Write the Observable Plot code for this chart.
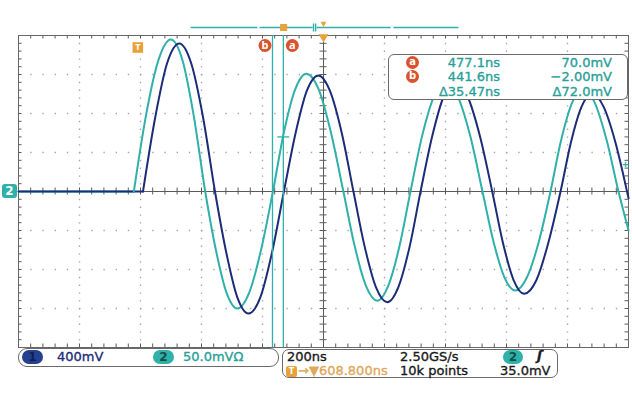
<!DOCTYPE html>
<html><head><meta charset="utf-8">
<script src="https://cdn.jsdelivr.net/npm/d3@7"></script>
<script src="https://cdn.jsdelivr.net/npm/@observablehq/plot@0.6"></script>
<style>
body{margin:0;background:#fff;}
#wrap{position:relative;width:632px;height:395px;overflow:hidden;font-family:"DejaVu Sans",sans-serif;}
#wrap svg{position:absolute;left:0;top:0;}
.box{position:absolute;background:#fff;border:1px solid #6a6a6a;box-sizing:border-box;}
.t{position:absolute;font-size:13px;line-height:14px;white-space:nowrap;-webkit-text-stroke:0.35px currentColor;}
.pill{position:absolute;border-radius:8px;font-size:12px;line-height:14px;text-align:center;font-weight:bold;}
.badge{position:absolute;width:13px;height:13px;border-radius:50%;background:#d9532c;color:#fff;font-size:10px;line-height:12px;text-align:center;font-weight:bold;}
</style></head><body><div id="wrap"></div>
<script>
// ---- settings ----
const timePerDivNs = 200;
const centerTimeNs = 608.8;
const ch1MvPerDiv = 400;
const ch2MvPerDiv = 50;
const triggerLevelMv = 35.0;

// ---- channel 2 (cyan), time in ns, value in mV ----
const ch2Time = [-391,-300,-200,-100,-13,27,68,108,146,183,221,256,291,326,365,404,443,479,516,552,593,633,674,711,748,785,821,858,894,932,971,1009,1049,1090,1130,1166,1202,1238,1276,1315,1353,1388,1424,1459,1498,1537,1576,1609];
const ch2Mv   = [0,0,0,0,0,98,169,195,169,98,0,-75,-130,-150,-130,-75,0,76,131,151,131,76,0,-70,-121,-140,-121,-70,0,71,122,141,122,71,0,-64,-110,-127,-110,-64,0,66,114,132,114,66,0,-50];
const ch2StartNs = -13;

// ---- channel 1 (dark blue), time in ns, value in mV ----
const ch1Time = [-391,-300,-200,-100,17,57,96,136,175,214,253,290,326,363,402,440,479,517,554,592,630,669,707,744,781,818,854,891,927,965,1003,1041,1081,1122,1162,1197,1232,1267,1307,1346,1386,1420,1455,1489,1527,1566,1604,1609];
const ch1Mv   = [0,0,0,0,0,759,1315,1518,1315,759,0,-626,-1083,-1251,-1083,-626,0,595,1031,1190,1031,595,0,-568,-983,-1135,-983,-568,0,564,977,1128,977,564,0,-525,-908,-1049,-908,-525,0,503,870,1005,870,503,0,-70];
const ch1StartNs = 17;

// ---- cursors ----
const cursorNames = ["a","b"];
const cursorTimeNs = [477.1, 441.6];
const cursorMv = [70.0, -2.00];
const readTime = ["477.1ns","441.6ns","Δ35.47ns"];
const readVolt = ["70.0mV","−2.00mV","Δ72.0mV"];

// ---- record bar (ns along the record view) ----
const recordStart = [173, 399, 586, 838];
const recordEnd   = [392, 573, 829, 1051];
const recordBreakNs = [576, 583];
const recordTrigNs = 478;

// ---- bottom readouts ----
const ch1Scale = "400mV";
const ch2Scale = "50.0mVΩ";
const horizScale = "200ns";
const sampleRate = "2.50GS/s";
const trigPos = "→▼608.800ns";
const recLen = "10k points";
const trigLevel = "35.0mV";

const CYAN = "#2fb0a8", CYAN_T = "#2a9f99", NAVY = "#1d2c78", ORANGE = "#e9a23b", RED = "#d9532c";

const W = 632, H = 395, mL = 18, mR = 4, mT = 35, mB = 48;
const pw = W - mL - mR, ph = H - mT - mB;
const xDomain = [centerTimeNs - 5*timePerDivNs, centerTimeNs + 5*timePerDivNs];
const yDomain = [-4*ch2MvPerDiv, 4*ch2MvPerDiv];
const nsPerPx = (xDomain[1]-xDomain[0]) / pw;
const mvPerPx = (yDomain[1]-yDomain[0]) / ph;
const tickNs = 3.5*nsPerPx, tickMv = 3.5*mvPerPx;

const ch2 = ch2Time.map((t,i)=>({t, mv: ch2Mv[i]}));
const ch1 = ch1Time.map((t,i)=>({t, mv: ch1Mv[i]}));
const cursors = cursorNames.map((n,i)=>({n, t: cursorTimeNs[i], mv: cursorMv[i]}));

const xMajor = d3.range(0,11).map(i=>xDomain[0]+i*timePerDivNs);
const xMinor = d3.range(0,51).map(i=>xDomain[0]+i*timePerDivNs/5);
const yMajor = d3.range(0,9).map(i=>yDomain[0]+i*ch2MvPerDiv);
const yMinor = d3.range(0,41).map(i=>yDomain[0]+i*ch2MvPerDiv/5);
const recSegs = recordStart.map((s,i)=>({s, e: recordEnd[i]}));

const ratio = ch1MvPerDiv / ch2MvPerDiv;
const gridStroke = "#a8a8a8", axStroke = "#5a5a5a";
const barY = yDomain[1] + 8*mvPerPx;

const plot = Plot.plot({
  width: W, height: H, marginLeft: mL, marginRight: mR, marginTop: mT, marginBottom: mB,
  x: {domain: xDomain, axis: null},
  y: {domain: yDomain, axis: null},
  style: {background: "transparent", overflow: "visible"},
  marks: [
    Plot.ruleY(yMajor.filter(v=>v!==0 && Math.abs(v)!==yDomain[1]), {stroke: gridStroke, strokeWidth: 1.4, strokeDasharray: `1.4,${pw/50-1.4}`}),
    Plot.ruleX(xMajor.filter((v,i)=>i!==0 && i!==5 && i!==10), {stroke: gridStroke, strokeWidth: 1.4, strokeDasharray: `1.4,${ph/40-1.4}`}),
    Plot.ruleY([0], {stroke: axStroke}),
    Plot.ruleX([centerTimeNs], {stroke: axStroke}),
    Plot.ruleX(xMinor, {y1: yDomain[1], y2: yDomain[1]-tickMv, stroke: axStroke}),
    Plot.ruleX(xMinor, {y1: yDomain[0], y2: yDomain[0]+tickMv, stroke: axStroke}),
    Plot.ruleX(xMinor, {y1: -tickMv, y2: tickMv, stroke: axStroke}),
    Plot.ruleY(yMinor, {x1: xDomain[0], x2: xDomain[0]+tickNs, stroke: axStroke}),
    Plot.ruleY(yMinor, {x1: xDomain[1]-tickNs, x2: xDomain[1], stroke: axStroke}),
    Plot.ruleY(yMinor, {x1: centerTimeNs-tickNs, x2: centerTimeNs+tickNs, stroke: axStroke}),
    Plot.frame({stroke: "#666"}),
    // traces: flat baseline, then the ringing wave
    Plot.line(ch2.filter(d=>d.t<=ch2StartNs), {x: "t", y: "mv", stroke: CYAN, strokeWidth: 2.2}),
    Plot.line(ch1.filter(d=>d.t<=ch1StartNs), {x: "t", y: d=>d.mv/ratio, stroke: NAVY, strokeWidth: 2}),
    Plot.line(ch2.filter(d=>d.t>=ch2StartNs), {x: "t", y: "mv", stroke: CYAN, strokeWidth: 2, curve: "monotone-x"}),
    Plot.line(ch1.filter(d=>d.t>=ch1StartNs), {x: "t", y: d=>d.mv/ratio, stroke: NAVY, strokeWidth: 2, curve: "monotone-x"}),
    // cursors
    Plot.ruleX(cursors, {x: "t", stroke: CYAN, strokeWidth: 1.3}),
    Plot.link(cursors.filter(d=>d.n==="a"), {x1: d=>d.t-6*nsPerPx, x2: d=>d.t+6*nsPerPx, y1: "mv", y2: "mv", stroke: CYAN, strokeWidth: 1.3}),
    Plot.dot(cursors.filter(d=>d.n==="b"), {x: "t", y: ()=>yDomain[1], dx: -7.5, dy: 10, r: 6.5, fill: RED}),
    Plot.dot(cursors.filter(d=>d.n==="a"), {x: "t", y: ()=>yDomain[1], dx: 9, dy: 10, r: 6.5, fill: RED}),
    Plot.text(cursors.filter(d=>d.n==="b"), {x: "t", y: ()=>yDomain[1], text: "n", dx: -7.5, dy: 10, fill: "white", fontSize: 11, fontWeight: "bold"}),
    Plot.text(cursors.filter(d=>d.n==="a"), {x: "t", y: ()=>yDomain[1], text: "n", dx: 9, dy: 10, fill: "white", fontSize: 11, fontWeight: "bold"}),
    // trigger marker
    Plot.dot([0], {x: d=>d, y: ()=>yDomain[1], dy: 12, symbol: "square", r: 6, fill: ORANGE}),
    Plot.text([0], {x: d=>d, y: ()=>yDomain[1], dy: 12, text: ()=>"T", fill: "white", fontSize: 9, fontWeight: "bold"}),
    Plot.text([triggerLevelMv], {x: ()=>xDomain[1], y: d=>d, dx: -3, text: ()=>"+", fill: CYAN, fontSize: 11, fontWeight: "bold"}),
    // record bar
    Plot.link(recSegs, {x1: "s", x2: "e", y1: ()=>barY, y2: ()=>barY, stroke: CYAN, strokeWidth: 1.6}),
    Plot.link(recordBreakNs, {x1: d=>d, x2: d=>d, y1: ()=>barY - 4*mvPerPx, y2: ()=>barY + 4*mvPerPx, stroke: CYAN, strokeWidth: 1.4}),
    Plot.dot([recordTrigNs], {x: d=>d, y: ()=>barY, symbol: "square", r: 4, fill: ORANGE}),
    Plot.dot([centerTimeNs], {x: d=>d, y: ()=>barY, dy: -4, symbol: "triangle", r: 2.2, fill: ORANGE, rotate: 180}),
    Plot.dot([centerTimeNs], {x: d=>d, y: ()=>yDomain[1], dy: 1.5, symbol: "triangle", r: 3.6, fill: ORANGE, rotate: 180})
  ]
});
const wrap = document.getElementById("wrap");
wrap.appendChild(plot);

function add(html){ wrap.insertAdjacentHTML("beforeend", html); }
// channel 2 ground tag
add(`<div class="pill" style="left:2px;top:184px;width:15px;height:14px;border-radius:3px;background:${CYAN};color:#fff;">2</div>`);
// cursor readout
add(`<div class="box" style="left:388px;top:54px;width:240px;height:46px;border-radius:6px;"></div>`);
[62.5,76.5].forEach((y,i)=>add(`<div class="badge" style="left:406px;top:${y-6.5}px;">${cursorNames[i]}</div>`));
[62.5,76.5,91.5].forEach((y,i)=>{
  add(`<div class="t" style="right:${W-500}px;top:${y-7}px;color:${CYAN_T};">${readTime[i]}</div>`);
  add(`<div class="t" style="right:${W-612}px;top:${y-7}px;color:${CYAN_T};">${readVolt[i]}</div>`);
});
// bottom boxes
add(`<div class="box" style="left:18px;top:348px;width:261px;height:19px;border-radius:9px;"></div>`);
add(`<div class="pill" style="left:22px;top:350px;width:21px;height:14px;background:#24418f;color:#0f1f56;">1</div>`);
add(`<div class="t" style="left:57px;top:350px;color:${NAVY};">${ch1Scale}</div>`);
add(`<div class="pill" style="left:153px;top:350px;width:21px;height:14px;background:${CYAN};color:#0e4f4a;">2</div>`);
add(`<div class="t" style="left:183px;top:350px;color:${CYAN_T};">${ch2Scale}</div>`);
add(`<div class="box" style="left:282px;top:349px;width:276px;height:29px;border-radius:7px;"></div>`);
add(`<div class="t" style="left:287px;top:350px;color:#1a1a1a;">${horizScale}</div>`);
add(`<div class="t" style="left:400px;top:350px;color:#1a1a1a;">${sampleRate}</div>`);
add(`<div class="pill" style="left:503px;top:350px;width:20px;height:14px;background:${CYAN};color:#0e4f4a;">2</div>`);
add(`<div class="t" style="left:537px;top:349px;color:#1a1a1a;font-weight:bold;font-style:italic;">ʃ</div>`);
add(`<div class="pill" style="left:286px;top:366px;width:11px;height:11px;border-radius:2px;background:${ORANGE};color:#fff;font-size:8px;line-height:11px;">T</div>`);
add(`<div class="t" style="left:298px;top:364px;color:#e0a85a;">${trigPos}</div>`);
add(`<div class="t" style="left:400px;top:364px;color:#1a1a1a;">${recLen}</div>`);
add(`<div class="t" style="left:500px;top:364px;color:#1a1a1a;">${trigLevel}</div>`);
</script></body></html>
